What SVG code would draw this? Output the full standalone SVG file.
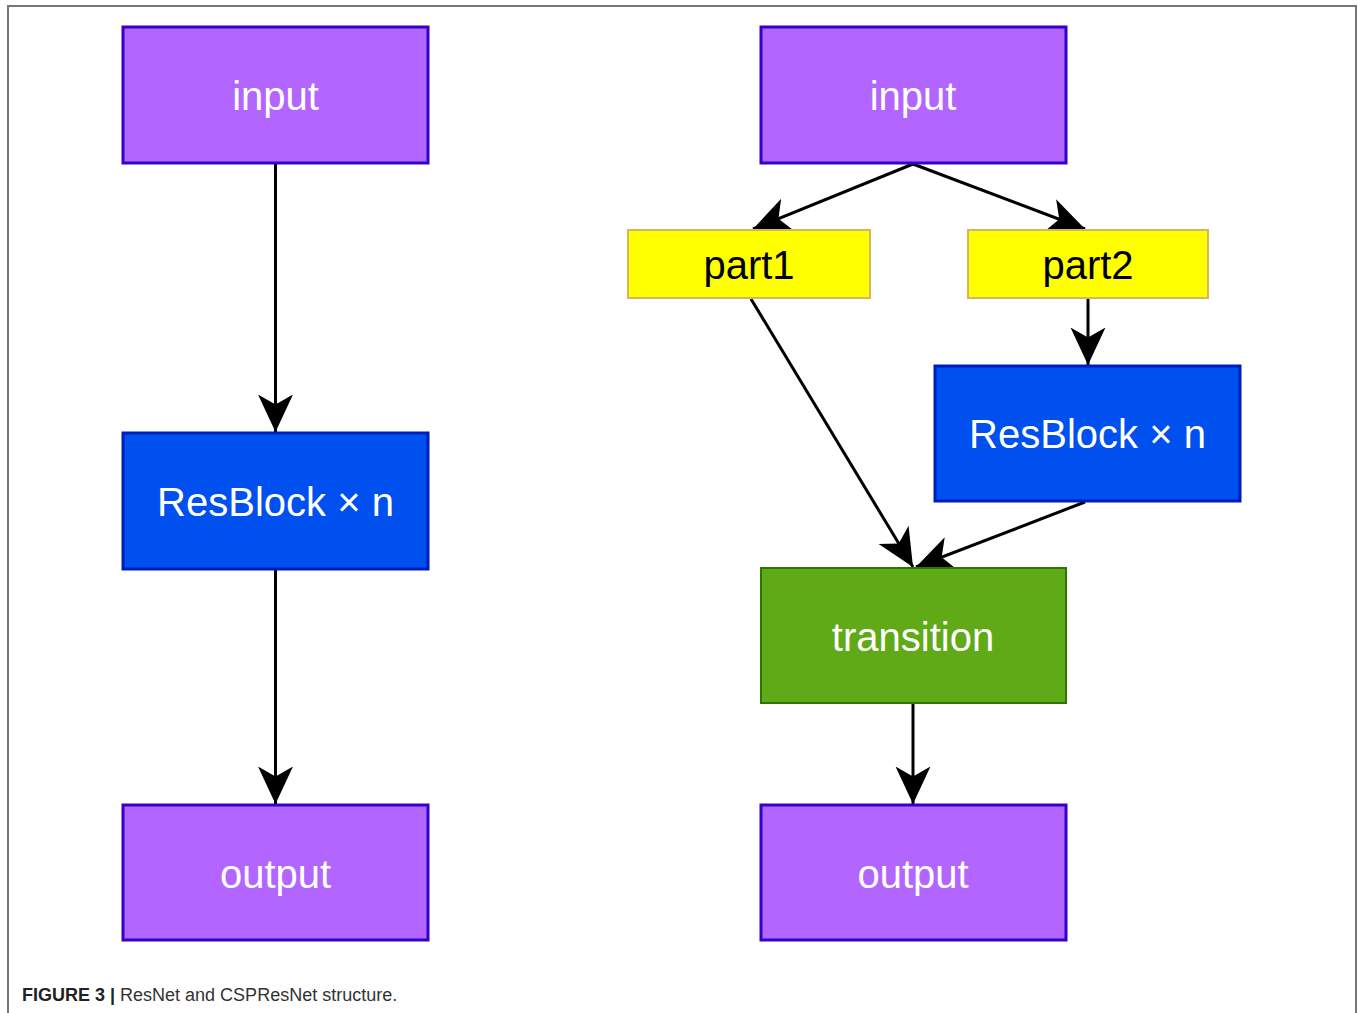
<svg xmlns="http://www.w3.org/2000/svg" width="1358" height="1013" viewBox="0 0 1358 1013">
<defs>
<style>
.purple{fill:#B266FF;stroke:#3300CC;stroke-width:3}
.blue{fill:#0050EF;stroke:#001DBC;stroke-width:3}
.green{fill:#60A917;stroke:#2D7600;stroke-width:2}
.yellow{fill:#FFFF00;stroke:#D6B656;stroke-width:2}
.lbl{font-family:"Liberation Sans",Arial,sans-serif;font-size:40px;text-anchor:middle;dominant-baseline:central}
.w{fill:#FFFFFF}
.k{fill:#000000}
.edge{stroke:#000;stroke-width:3;fill:none;marker-end:url(#arr)}
</style>
<marker id="arr" markerUnits="userSpaceOnUse" markerWidth="40" markerHeight="40" viewBox="-30 -16 32 32" refX="0" refY="0" orient="auto">
<path d="M0,0 L-30,-14 L-22,0 L-30,14 Z" fill="#000"/>
</marker>
</defs>
<rect x="8" y="6" width="1348" height="1020" fill="#fff" stroke="#777" stroke-width="2"/>
<g id="connectors">
<line class="edge" x1="275.5" y1="164" x2="275.5" y2="432"/>
<line class="edge" x1="275.5" y1="570" x2="275.5" y2="804"/>
<line class="edge" x1="913" y1="164" x2="753" y2="229"/>
<line class="edge" x1="913" y1="164" x2="1085" y2="229"/>
<line class="edge" x1="1088" y1="299" x2="1088" y2="365"/>
<line class="edge" x1="751" y1="299" x2="913" y2="567"/>
<line class="edge" x1="1085" y1="502" x2="916" y2="567"/>
<line class="edge" x1="913" y1="704" x2="913" y2="804"/>
</g>
<g id="resnet-input"><rect class="purple" x="123" y="27" width="305" height="136"/><text class="lbl w" x="275.5" y="96">input</text></g>
<g id="resnet-resblock"><rect class="blue" x="123" y="433" width="305" height="136"/><text class="lbl w" x="275.5" y="502">ResBlock × n</text></g>
<g id="resnet-output"><rect class="purple" x="123" y="805" width="305" height="135"/><text class="lbl w" x="275.5" y="874">output</text></g>
<g id="csp-input"><rect class="purple" x="761" y="27" width="305" height="136"/><text class="lbl w" x="913" y="96">input</text></g>
<g id="csp-part1"><rect class="yellow" x="628" y="230" width="242" height="68"/><text class="lbl k" x="749" y="265">part1</text></g>
<g id="csp-part2"><rect class="yellow" x="968" y="230" width="240" height="68"/><text class="lbl k" x="1088" y="265">part2</text></g>
<g id="csp-resblock"><rect class="blue" x="935" y="366" width="305" height="135"/><text class="lbl w" x="1087.5" y="434">ResBlock × n</text></g>
<g id="csp-transition"><rect class="green" x="761" y="568" width="305" height="135"/><text class="lbl w" x="913" y="637">transition</text></g>
<g id="csp-output"><rect class="purple" x="761" y="805" width="305" height="135"/><text class="lbl w" x="913" y="874">output</text></g>
<text x="22" y="1001" font-family="'Liberation Sans',Arial,sans-serif" font-size="18" fill="#333"><tspan font-weight="bold" fill="#222">FIGURE 3 |</tspan> ResNet and CSPResNet structure.</text>
</svg>
